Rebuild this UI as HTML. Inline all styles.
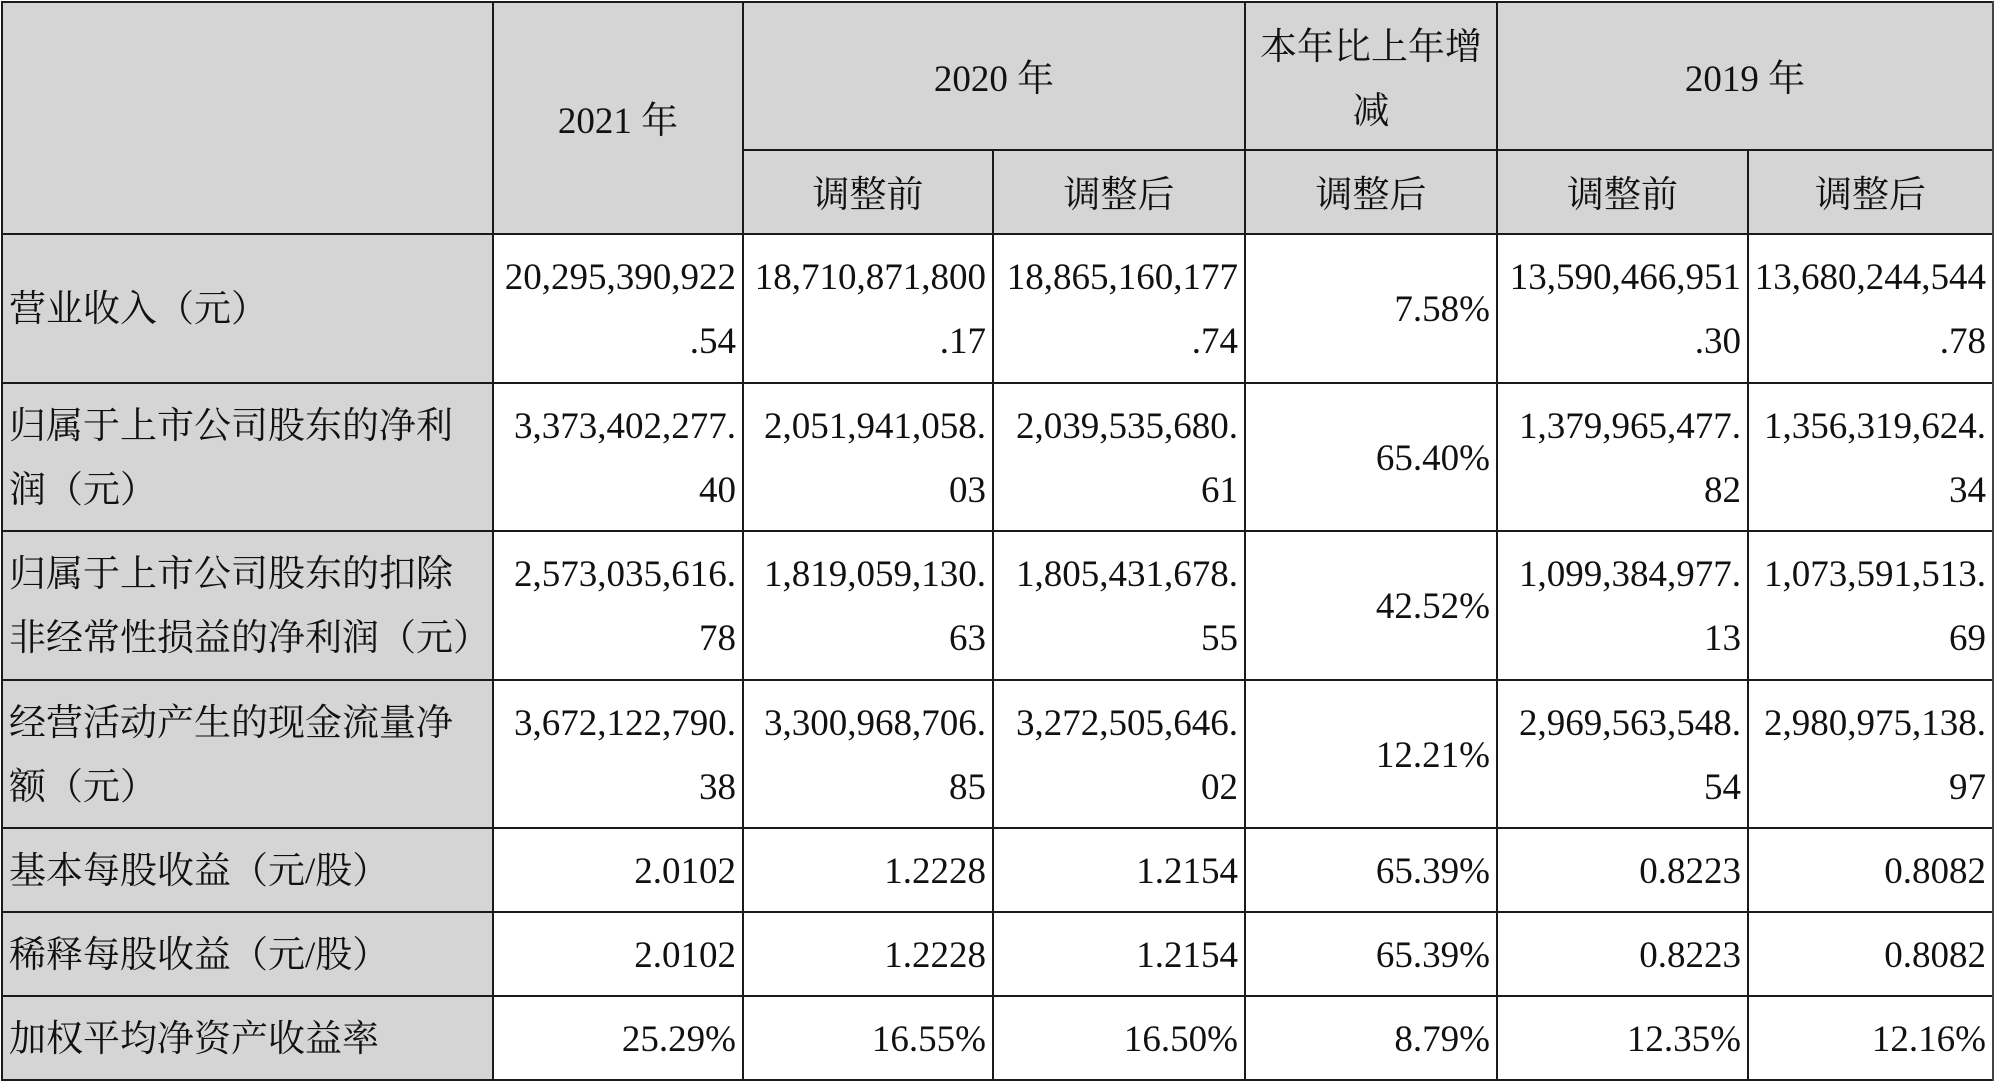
<!DOCTYPE html>
<html><head><meta charset="utf-8">
<style>
html,body{margin:0;padding:0;background:#fff;}
body{width:1994px;height:1082px;position:relative;overflow:hidden;
font-family:"Liberation Serif","Noto Serif CJK SC",serif;font-size:37px;color:#111;}
.bg{position:absolute;background:#d5d5d5;}
.c{position:absolute;display:flex;align-items:center;line-height:64px;white-space:nowrap;box-sizing:border-box;padding-top:3px;}
.r{justify-content:flex-end;padding-right:7px;text-align:right;}
.l{justify-content:flex-start;padding-left:7px;text-align:left;}
.m{justify-content:center;text-align:center;padding-top:8px;}
.h{position:absolute;height:2px;background:#1a1a1a;}
.v{position:absolute;width:2px;background:#1a1a1a;}
</style></head><body>
<!-- gray backgrounds -->
<div class="bg" style="left:2px;top:2px;width:1991px;height:232px;"></div>
<div class="bg" style="left:2px;top:234px;width:491px;height:846px;"></div>

<!-- header text -->
<div class="c m" style="left:493px;top:2px;width:250px;height:232px;">2021 年</div>
<div class="c m" style="left:743px;top:2px;width:502px;height:148px;">2020 年</div>
<div class="c m" style="left:1245px;top:2px;width:252px;height:148px;">本年比上年增<br>减</div>
<div class="c m" style="left:1497px;top:2px;width:496px;height:148px;">2019 年</div>
<div class="c m" style="left:743px;top:150px;width:250px;height:84px;">调整前</div>
<div class="c m" style="left:993px;top:150px;width:252px;height:84px;">调整后</div>
<div class="c m" style="left:1245px;top:150px;width:252px;height:84px;">调整后</div>
<div class="c m" style="left:1497px;top:150px;width:251px;height:84px;">调整前</div>
<div class="c m" style="left:1748px;top:150px;width:245px;height:84px;">调整后</div>

<!-- Row 1 -->
<div class="c l" style="left:2px;top:234px;width:491px;height:149px;">营业收入（元）</div>
<div class="c r" style="left:493px;top:234px;width:250px;height:149px;">20,295,390,922<br>.54</div>
<div class="c r" style="left:743px;top:234px;width:250px;height:149px;">18,710,871,800<br>.17</div>
<div class="c r" style="left:993px;top:234px;width:252px;height:149px;">18,865,160,177<br>.74</div>
<div class="c r" style="left:1245px;top:234px;width:252px;height:149px;">7.58%</div>
<div class="c r" style="left:1497px;top:234px;width:251px;height:149px;">13,590,466,951<br>.30</div>
<div class="c r" style="left:1748px;top:234px;width:245px;height:149px;">13,680,244,544<br>.78</div>

<!-- Row 2 -->
<div class="c l" style="left:2px;top:383px;width:491px;height:148px;">归属于上市公司股东的净利<br>润（元）</div>
<div class="c r" style="left:493px;top:383px;width:250px;height:148px;">3,373,402,277.<br>40</div>
<div class="c r" style="left:743px;top:383px;width:250px;height:148px;">2,051,941,058.<br>03</div>
<div class="c r" style="left:993px;top:383px;width:252px;height:148px;">2,039,535,680.<br>61</div>
<div class="c r" style="left:1245px;top:383px;width:252px;height:148px;">65.40%</div>
<div class="c r" style="left:1497px;top:383px;width:251px;height:148px;">1,379,965,477.<br>82</div>
<div class="c r" style="left:1748px;top:383px;width:245px;height:148px;">1,356,319,624.<br>34</div>

<!-- Row 3 -->
<div class="c l" style="left:2px;top:531px;width:491px;height:149px;">归属于上市公司股东的扣除<br>非经常性损益的净利润（元）</div>
<div class="c r" style="left:493px;top:531px;width:250px;height:149px;">2,573,035,616.<br>78</div>
<div class="c r" style="left:743px;top:531px;width:250px;height:149px;">1,819,059,130.<br>63</div>
<div class="c r" style="left:993px;top:531px;width:252px;height:149px;">1,805,431,678.<br>55</div>
<div class="c r" style="left:1245px;top:531px;width:252px;height:149px;">42.52%</div>
<div class="c r" style="left:1497px;top:531px;width:251px;height:149px;">1,099,384,977.<br>13</div>
<div class="c r" style="left:1748px;top:531px;width:245px;height:149px;">1,073,591,513.<br>69</div>

<!-- Row 4 -->
<div class="c l" style="left:2px;top:680px;width:491px;height:148px;">经营活动产生的现金流量净<br>额（元）</div>
<div class="c r" style="left:493px;top:680px;width:250px;height:148px;">3,672,122,790.<br>38</div>
<div class="c r" style="left:743px;top:680px;width:250px;height:148px;">3,300,968,706.<br>85</div>
<div class="c r" style="left:993px;top:680px;width:252px;height:148px;">3,272,505,646.<br>02</div>
<div class="c r" style="left:1245px;top:680px;width:252px;height:148px;">12.21%</div>
<div class="c r" style="left:1497px;top:680px;width:251px;height:148px;">2,969,563,548.<br>54</div>
<div class="c r" style="left:1748px;top:680px;width:245px;height:148px;">2,980,975,138.<br>97</div>

<!-- Row 5 -->
<div class="c l" style="left:2px;top:828px;width:491px;height:84px;">基本每股收益（元/股）</div>
<div class="c r" style="left:493px;top:828px;width:250px;height:84px;">2.0102</div>
<div class="c r" style="left:743px;top:828px;width:250px;height:84px;">1.2228</div>
<div class="c r" style="left:993px;top:828px;width:252px;height:84px;">1.2154</div>
<div class="c r" style="left:1245px;top:828px;width:252px;height:84px;">65.39%</div>
<div class="c r" style="left:1497px;top:828px;width:251px;height:84px;">0.8223</div>
<div class="c r" style="left:1748px;top:828px;width:245px;height:84px;">0.8082</div>

<!-- Row 6 -->
<div class="c l" style="left:2px;top:912px;width:491px;height:84px;">稀释每股收益（元/股）</div>
<div class="c r" style="left:493px;top:912px;width:250px;height:84px;">2.0102</div>
<div class="c r" style="left:743px;top:912px;width:250px;height:84px;">1.2228</div>
<div class="c r" style="left:993px;top:912px;width:252px;height:84px;">1.2154</div>
<div class="c r" style="left:1245px;top:912px;width:252px;height:84px;">65.39%</div>
<div class="c r" style="left:1497px;top:912px;width:251px;height:84px;">0.8223</div>
<div class="c r" style="left:1748px;top:912px;width:245px;height:84px;">0.8082</div>

<!-- Row 7 -->
<div class="c l" style="left:2px;top:996px;width:491px;height:84px;">加权平均净资产收益率</div>
<div class="c r" style="left:493px;top:996px;width:250px;height:84px;">25.29%</div>
<div class="c r" style="left:743px;top:996px;width:250px;height:84px;">16.55%</div>
<div class="c r" style="left:993px;top:996px;width:252px;height:84px;">16.50%</div>
<div class="c r" style="left:1245px;top:996px;width:252px;height:84px;">8.79%</div>
<div class="c r" style="left:1497px;top:996px;width:251px;height:84px;">12.35%</div>
<div class="c r" style="left:1748px;top:996px;width:245px;height:84px;">12.16%</div>

<!-- horizontal lines -->
<div class="h" style="left:1px;top:1px;width:1993px;"></div>
<div class="h" style="left:742px;top:149px;width:1252px;"></div>
<div class="h" style="left:1px;top:233px;width:1993px;"></div>
<div class="h" style="left:1px;top:382px;width:1993px;"></div>
<div class="h" style="left:1px;top:530px;width:1993px;"></div>
<div class="h" style="left:1px;top:679px;width:1993px;"></div>
<div class="h" style="left:1px;top:827px;width:1993px;"></div>
<div class="h" style="left:1px;top:911px;width:1993px;"></div>
<div class="h" style="left:1px;top:995px;width:1993px;"></div>
<div class="h" style="left:1px;top:1079px;width:1993px;"></div>

<!-- vertical lines -->
<div class="v" style="left:1px;top:1px;height:1080px;"></div>
<div class="v" style="left:492px;top:1px;height:1080px;"></div>
<div class="v" style="left:742px;top:1px;height:1080px;"></div>
<div class="v" style="left:992px;top:149px;height:932px;"></div>
<div class="v" style="left:1244px;top:1px;height:1080px;"></div>
<div class="v" style="left:1496px;top:1px;height:1080px;"></div>
<div class="v" style="left:1747px;top:149px;height:932px;"></div>
<div class="v" style="left:1992px;top:1px;height:1080px;background:#444;"></div>
</body></html>
